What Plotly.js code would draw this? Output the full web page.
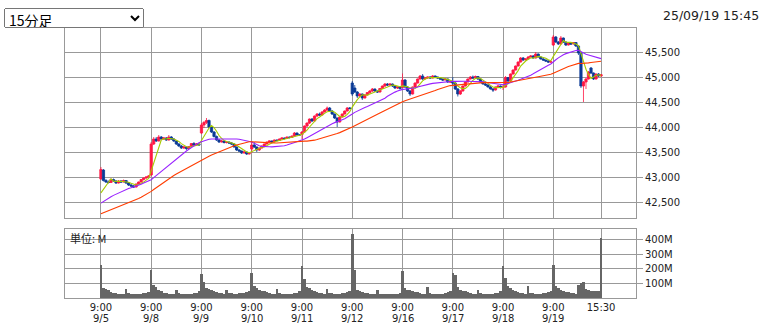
<!DOCTYPE html>
<html><head><meta charset="utf-8">
<script src="https://cdn.plot.ly/plotly-3.0.1.min.js"></script>
<style>
html,body{margin:0;padding:0;background:#fff;width:765px;height:323px;overflow:hidden;}
#chart{position:absolute;left:0;top:0;width:765px;height:323px;}
#sel{position:absolute;left:4px;top:8px;width:140px;height:20px;font-family:"Noto Sans CJK JP",sans-serif;font-size:14px;z-index:5;}
#stamp{position:absolute;left:663px;top:8px;font-family:"DejaVu Sans",sans-serif;font-size:12.5px;color:#222;z-index:5;white-space:nowrap;}
</style></head>
<body>
<div id="chart"></div>
<select id="sel"><option>15分足</option></select>
<div id="stamp">25/09/19 15:45</div>
<script>
const dayLabels = ['9/5','9/8','9/9','9/10','9/11','9/12','9/16','9/17','9/18','9/19'];
const barsPerDay = 20;
const closeLabel = '15:30';
const openLabel = '9:00';

// estimated closes of the 39 bars before the first visible bar (used only for moving averages)
const priorCloses = [
 42150,42120,42080,42100,42060,42040,42080,42100,42120,42090,42060,42030,42010,41990,42000,41980,41960,41950,41940,
 42150,42220,42260,42300,42340,42360,42380,42400,42420,42440,42460,42480,42500,42510,42520,42540,42550,42560,42570,42580
];

const open = [
 42960,43140,42930,42900,42890,42950,42920,42880,42920,42900,42930,42880,42840,42820,42800,42860,42900,42950,42980,43000,
 43040,43660,43760,43720,43800,43760,43780,43740,43800,43760,43720,43660,43620,43580,43600,43570,43610,43670,43640,43660,
 43880,44040,44090,44130,44000,43900,43810,43740,43700,43720,43690,43700,43680,43660,43600,43540,43520,43480,43500,43460,
 43560,43640,43600,43540,43580,43620,43660,43700,43720,43700,43740,43730,43760,43780,43770,43800,43790,43820,43880,43840,
 43850,43900,44020,44080,44160,44120,44220,44260,44240,44300,44340,44380,44320,44260,44180,44100,44200,44260,44320,44380,
 44880,44780,44700,44620,44660,44580,44640,44690,44720,44760,44720,44700,44770,44820,44860,44840,44860,44820,44780,44800,
 44790,44940,44800,44720,44660,44800,44880,44960,45020,44960,44980,45000,44980,45020,45000,44980,44960,44940,44960,44900,
 44900,44880,44760,44660,44720,44820,44900,44960,45000,44980,45010,44960,44900,44860,44840,44800,44760,44740,44800,44820,
 44790,44800,44990,44920,45060,45140,45220,45300,45380,45340,45360,45400,45420,45380,45460,45400,45360,45340,45320,45300,
 45640,45800,45700,45660,45780,45700,45640,45680,45660,45690,45620,45480,44820,44900,44960,45180,45080,44960,45060,45020
];
const high = [
 43200,43160,42960,42930,42970,42970,42940,42940,42940,42950,42940,42900,42860,42840,42870,42910,42960,42990,43010,43040,
 43700,43800,43800,43840,43820,43800,43800,43840,43820,43780,43730,43680,43640,43620,43610,43620,43680,43700,43680,43680,
 44080,44120,44180,44150,44020,43920,43830,43760,43740,43730,43720,43710,43700,43670,43610,43560,43530,43520,43510,43490,
 43720,43700,43610,43590,43630,43670,43710,43730,43730,43750,43750,43770,43790,43790,43810,43810,43830,43900,43890,43860,
 43920,44030,44090,44170,44180,44230,44280,44290,44320,44360,44410,44400,44340,44270,44190,44210,44270,44330,44400,44400,
 44920,44840,44720,44680,44670,44660,44700,44740,44780,44770,44730,44780,44830,44880,44880,44870,44870,44830,44810,44810,
 45070,44960,44820,44740,44810,44890,44970,45040,45060,45000,45010,45020,45040,45030,45010,44990,44970,44980,44970,44920,
 45000,44900,44780,44740,44830,44910,44970,45020,45030,45030,45020,44980,44910,44880,44860,44820,44780,44810,44830,44830,
 44860,45020,45000,45070,45150,45230,45310,45400,45400,45380,45420,45440,45440,45500,45470,45410,45380,45350,45340,45320,
 45840,45820,45720,45820,45790,45710,45700,45700,45700,45700,45640,45500,44920,44980,45120,45200,45090,45070,45080,45060
];
const low = [
 42950,42910,42880,42870,42880,42900,42860,42870,42880,42890,42860,42820,42800,42780,42790,42850,42890,42930,42960,42990,
 43020,43640,43700,43710,43740,43740,43720,43730,43740,43700,43640,43600,43560,43560,43540,43560,43600,43620,43630,43630,
 43860,43980,44060,43980,43880,43790,43720,43680,43690,43670,43670,43660,43640,43590,43520,43500,43460,43470,43440,43450,
 43480,43580,43500,43520,43570,43610,43650,43680,43680,43690,43710,43720,43750,43750,43760,43770,43780,43810,43830,43820,
 43760,43880,44000,44060,44100,44110,44200,44220,44230,44290,44320,44300,44240,44160,44000,44090,44190,44250,44310,44350,
 44620,44680,44580,44600,44540,44570,44630,44660,44700,44700,44680,44690,44760,44800,44820,44820,44800,44760,44760,44750,
 44780,44780,44700,44620,44650,44790,44870,44950,44940,44950,44960,44960,44970,44980,44960,44940,44920,44930,44880,44880,
 44840,44740,44610,44640,44710,44810,44890,44950,44960,44970,44940,44890,44850,44820,44790,44750,44700,44730,44780,44770,
 44740,44790,44900,44910,45050,45130,45210,45290,45320,45330,45350,45390,45370,45370,45390,45350,45320,45300,45280,45280,
 45620,45680,45640,45650,45680,45620,45630,45640,45650,45600,45440,44780,44500,44760,44950,45060,44940,44950,45000,45010
];
const close = [
 43150,42930,42900,42890,42950,42920,42880,42920,42900,42930,42880,42840,42820,42800,42860,42900,42950,42980,43000,43020,
 43660,43760,43720,43800,43760,43780,43740,43800,43760,43720,43660,43620,43580,43600,43570,43610,43670,43640,43660,43640,
 44040,44090,44130,44000,43900,43810,43740,43700,43720,43690,43700,43680,43660,43600,43540,43520,43480,43500,43460,43470,
 43640,43600,43540,43580,43620,43660,43700,43720,43700,43740,43730,43760,43780,43770,43800,43790,43820,43880,43840,43840,
 43900,44020,44080,44160,44120,44220,44260,44240,44300,44340,44380,44320,44260,44180,44100,44200,44260,44320,44380,44372,
 44660,44700,44620,44660,44580,44640,44690,44720,44760,44720,44700,44770,44820,44860,44840,44860,44820,44780,44800,44768,
 44940,44800,44720,44660,44800,44880,44960,45020,44960,44980,45000,44980,45020,45000,44980,44960,44940,44960,44900,44902,
 44880,44760,44660,44720,44820,44900,44960,45000,44980,45010,44960,44900,44860,44840,44800,44760,44740,44800,44820,44790,
 44800,44990,44920,45060,45140,45220,45300,45380,45340,45360,45400,45420,45380,45460,45400,45360,45340,45320,45300,45303,
 45800,45700,45660,45780,45700,45640,45680,45660,45690,45620,45480,44820,44900,44960,45100,45080,44960,45060,45020,45045
];
// volume in millions of shares
const volume = [
 226,66,60,52,38,34,31,29,27,26,62,32,30,28,28,28,29,31,35,42,
 194,87,73,57,46,36,31,28,27,27,57,32,30,28,28,29,30,31,34,46,
 164,110,70,60,52,45,40,35,32,30,55,34,31,30,30,31,33,35,40,48,
 171,82,68,57,50,45,39,34,30,28,64,32,30,28,28,29,30,32,36,46,
 217,130,78,65,55,47,40,35,31,29,64,34,31,29,28,30,32,34,38,48,
 438,190,55,46,40,36,32,30,28,26,57,30,28,26,25,24,24,26,28,36,
 187,70,58,52,47,42,38,34,30,28,73,34,30,28,27,28,30,34,40,46,
 171,158,75,57,50,45,40,35,30,28,57,32,30,28,27,28,30,32,36,46,
 221,137,80,68,57,48,42,36,32,30,80,36,32,30,28,30,32,34,38,48,
 228,82,66,55,48,42,38,35,32,30,91,103,107,62,52,50,48,46,50,410
];
const maPeriods = [5, 20, 40];
const maColors = ['#a6cc00', '#9922ff', '#ff3c00'];
const priceTicks = [42500, 43000, 43500, 44000, 44500, 45000, 45500];
const volumeTicks = [100, 200, 300, 400];
const volumeTickText = ['100M', '200M', '300M', '400M'];
const volumeUnit = '単位: M';

const x = close.map((_, i) => i);
const allCloses = priorCloses.concat(close);
const off = priorCloses.length;
function sma(p) {
  return close.map((_, i) => {
    let s = 0;
    for (let k = 0; k < p; k++) s += allCloses[off + i - k];
    return s / p;
  });
}
const dayStarts = dayLabels.map((d, k) => k * barsPerDay);
const tickvals = dayStarts.concat([close.length - 1]);
const ticktext = dayLabels.map(() => openLabel).concat([closeLabel]);

const RED = '#ff1744', BLUE = '#0a3a96', GRID = '#999999';
const traces = [{
  type: 'candlestick', x: x, open: open, high: high, low: low, close: close,
  xaxis: 'x', yaxis: 'y',
  increasing: {line: {color: RED, width: 0.8}, fillcolor: RED},
  decreasing: {line: {color: BLUE, width: 0.8}, fillcolor: BLUE},
  whiskerwidth: 0, hoverinfo: 'skip', showlegend: false
}];
maPeriods.forEach((p, k) => traces.push({
  type: 'scatter', mode: 'lines', x: x, y: sma(p), xaxis: 'x', yaxis: 'y',
  line: {color: maColors[k], width: 1.1}, hoverinfo: 'skip', showlegend: false
}));
traces.push({
  type: 'bar', x: x, y: volume, xaxis: 'x2', yaxis: 'y2',
  marker: {color: '#666666', line: {width: 0}}, hoverinfo: 'skip', showlegend: false
});

const xr = [-14.3, 212.9];
const font = {family: 'DejaVu Sans, sans-serif', size: 10, color: '#222'};
const annotations = [{
  text: volumeUnit, xref: 'paper', yref: 'paper', x: 0.005, y: 0.2233,
  xanchor: 'left', yanchor: 'middle', showarrow: false,
  font: {family: 'Noto Sans CJK JP, sans-serif', size: 11, color: '#222'}
}].concat(dayLabels.map((d, k) => ({
  text: d, xref: 'x2', yref: 'paper', x: dayStarts[k], y: -0.075,
  xanchor: 'center', yanchor: 'middle', showarrow: false, font: font
})));
const layout = {
  width: 765, height: 323,
  margin: {l: 65, r: 129, t: 28, b: 25},
  paper_bgcolor: '#fff', plot_bgcolor: '#fff',
  font: font, showlegend: false, bargap: 0, boxgap: 0.1, boxgroupgap: 0,
  xaxis: {domain: [0, 1], range: xr, anchor: 'y', tickvals: tickvals, showticklabels: false,
    showgrid: true, gridcolor: GRID, gridwidth: 1, zeroline: false,
    showline: true, mirror: true, linecolor: GRID, linewidth: 1, ticks: '',
    rangeslider: {visible: false}, fixedrange: true},
  yaxis: {domain: [0.2963, 1], range: [42180, 45980], side: 'right', tickvals: priceTicks,
    tickformat: ',d', ticks: 'outside', ticklen: 6, tickcolor: GRID,
    showgrid: true, gridcolor: GRID, zeroline: false,
    showline: true, mirror: true, linecolor: GRID, linewidth: 1, fixedrange: true},
  xaxis2: {domain: [0, 1], range: xr, anchor: 'y2', tickvals: tickvals, ticktext: ticktext,
    showgrid: true, gridcolor: GRID, zeroline: false, ticks: '',
    showline: true, mirror: true, linecolor: GRID, linewidth: 1, fixedrange: true, tickangle: 0},
  yaxis2: {domain: [0, 0.2556], range: [0, 471.8], side: 'right', tickvals: volumeTicks,
    ticktext: volumeTickText, ticks: 'outside', ticklen: 6, tickcolor: GRID,
    showgrid: true, gridcolor: GRID, zeroline: false,
    showline: true, mirror: true, linecolor: GRID, linewidth: 1, fixedrange: true},
  annotations: annotations
};
Plotly.newPlot('chart', traces, layout, {displayModeBar: false, staticPlot: true});
</script>
</body></html>
